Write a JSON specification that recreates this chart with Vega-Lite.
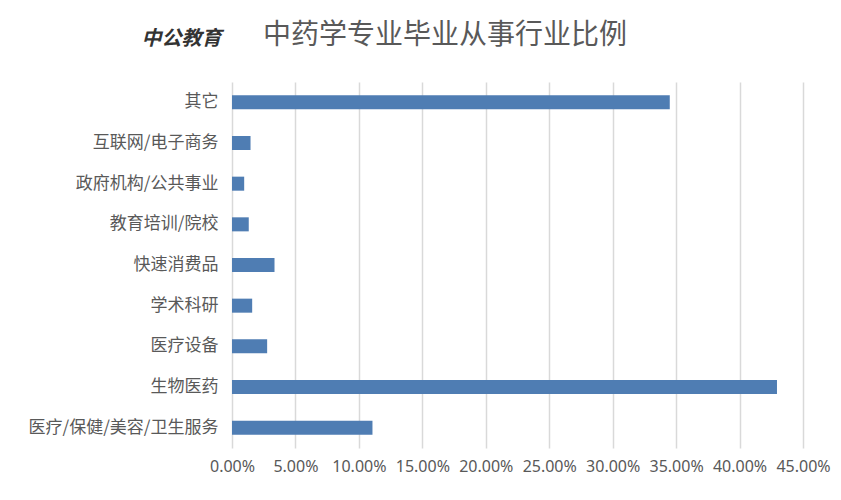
{
  "$schema": "https://vega.github.io/schema/vega-lite/v6.json",
  "autosize": {"type": "none"},
  "width": 571,
  "height": 366,
  "padding": {"left": 232, "top": 82, "right": 38, "bottom": 52},
  "background": "white",
  "title": {
    "text": "中药学专业毕业从事行业比例",
    "anchor": "start",
    "frame": "group",
    "dx": 31,
    "dy": 22,
    "offset": 0,
    "font": "Noto Sans CJK SC",
    "fontSize": 28,
    "fontWeight": "normal",
    "color": "#595959"
  },
  "data": {
    "values": [
      {"industry": "其它", "share": 0.345},
      {"industry": "互联网/电子商务", "share": 0.0146},
      {"industry": "政府机构/公共事业", "share": 0.0096},
      {"industry": "教育培训/院校", "share": 0.0132},
      {"industry": "快速消费品", "share": 0.0335},
      {"industry": "学术科研", "share": 0.0159},
      {"industry": "医疗设备", "share": 0.0277},
      {"industry": "生物医药", "share": 0.4295},
      {"industry": "医疗/保健/美容/卫生服务", "share": 0.1107}
    ]
  },
  "mark": {"type": "bar", "color": "#4f7db3"},
  "encoding": {
    "y": {
      "field": "industry",
      "type": "nominal",
      "sort": null,
      "scale": {"paddingInner": 0.655, "paddingOuter": 0.328},
      "axis": {
        "title": "中公教育",
        "titleAngle": 0,
        "titleX": -51,
        "titleY": -44,
        "titleAlign": "center",
        "titleBaseline": "middle",
        "titleFont": "Noto Sans CJK SC",
        "titleFontSize": 20,
        "titleFontWeight": "bold",
        "titleFontStyle": "italic",
        "titleColor": "#333333",
        "domain": false,
        "ticks": false,
        "grid": false,
        "labelPadding": 14,
        "labelFont": "Noto Sans CJK SC",
        "labelFontSize": 17,
        "labelColor": "#595959",
        "labelLimit": 300
      }
    },
    "x": {
      "field": "share",
      "type": "quantitative",
      "scale": {"domain": [0, 0.45], "nice": false},
      "axis": {
        "title": null,
        "format": ".2%",
        "values": [0, 0.05, 0.1, 0.15, 0.2, 0.25, 0.3, 0.35, 0.4, 0.45],
        "grid": true,
        "gridColor": "#d9d9d9",
        "gridWidth": 1.5,
        "domain": false,
        "ticks": false,
        "labelPadding": 10,
        "labelFont": "Noto Sans",
        "labelFontSize": 16,
        "labelColor": "#595959",
        "labelFlush": false
      }
    }
  },
  "config": {"view": {"stroke": null}}
}
